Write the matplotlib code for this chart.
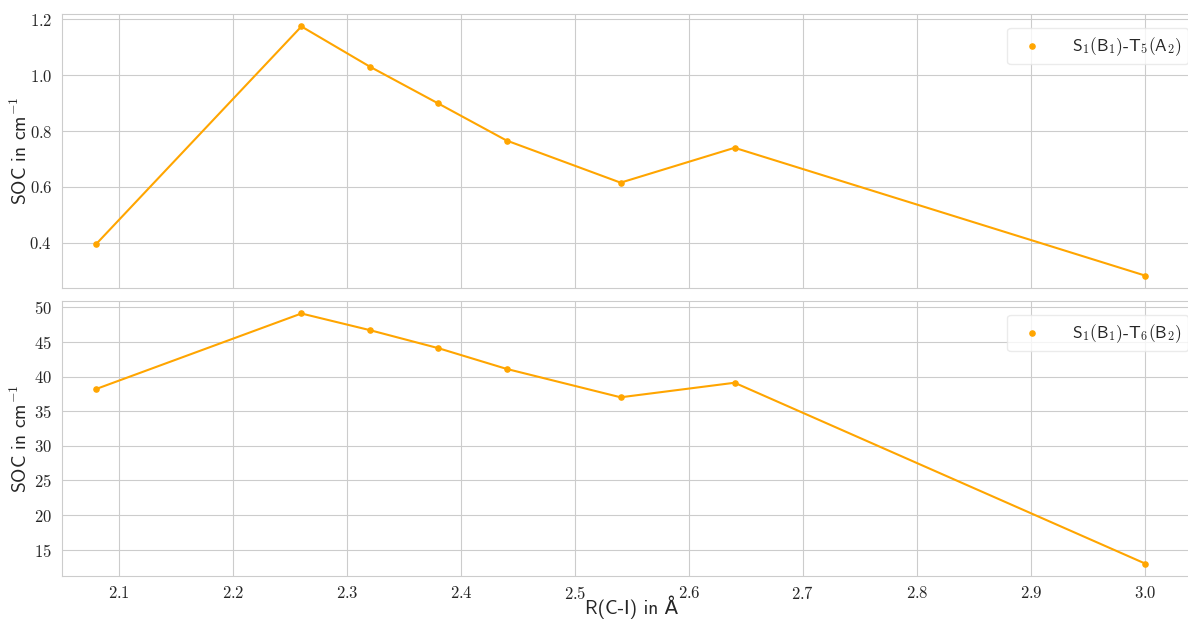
import matplotlib
matplotlib.use("Agg")
import matplotlib.pyplot as plt
import seaborn as sns

# bond length R(C-I) in Angstrom
r_ci = [2.08, 2.26, 2.32, 2.38, 2.44, 2.54, 2.64, 3.00]

# SOC values in cm^-1
soc_t5 = [0.395, 1.175, 1.031, 0.899, 0.766, 0.615, 0.740, 0.282]
soc_t6 = [38.2, 49.1, 46.7, 44.1, 41.1, 37.0, 39.1, 13.0]

label_t5 = r"$\mathsf{S}_1\mathsf{(B}_1\mathsf{)}$-$\mathsf{T}_5\mathsf{(A}_2\mathsf{)}$"
label_t6 = r"$\mathsf{S}_1\mathsf{(B}_1\mathsf{)}$-$\mathsf{T}_6\mathsf{(B}_2\mathsf{)}$"

sns.set_style("whitegrid")
plt.rcParams["font.family"] = ["cmr10", "DejaVu Sans"]
plt.rcParams["mathtext.fontset"] = "cm"
plt.rcParams["axes.formatter.use_mathtext"] = True

sans = ["cmss10", "DejaVu Sans"]
col = "#ffa500"

fig = plt.figure(figsize=(11.88, 6.22), dpi=100)
W, H = 1188, 622
ax1 = fig.add_axes([62 / W, 1 - 288 / H, 1140 / W, 274 / H])
ax2 = fig.add_axes([62 / W, 1 - 576 / H, 1140 / W, 275 / H], sharex=ax1)

for ax, vals, lab in [(ax1, soc_t5, label_t5), (ax2, soc_t6, label_t6)]:
    ax.plot(r_ci, vals, color=col, lw=1.5)
    ax.scatter(r_ci, vals, color=col, s=14, zorder=3, label=lab)
    ax.set_ylabel("SOC in cm$^{-1}$", family=sans, fontsize=14)
    ax.yaxis.set_label_coords(-31 / 1140, 0.5)
    leg = ax.legend(loc="upper right", prop={"family": sans, "size": 12.5},
                    frameon=True, borderpad=0.4, handletextpad=1.3,
                    borderaxespad=0.8)
    leg.get_frame().set_edgecolor("#e6e6e6")
    ax.tick_params(labelsize=12)
    for s in ax.spines.values():
        s.set_color("#cccccc")

ax1.set_xlim(2.05, 3.05)
ax1.tick_params(labelbottom=False)
ax2.set_xticks([2.1, 2.2, 2.3, 2.4, 2.5, 2.6, 2.7, 2.8, 2.9, 3.0])
ax2.tick_params(axis="x", pad=3)
ax2.set_xlabel("R(C-I) in Å", family=sans, fontsize=14)
ax2.xaxis.set_label_coords(0.5, -0.07)

fig.savefig("out.png", dpi=100)
